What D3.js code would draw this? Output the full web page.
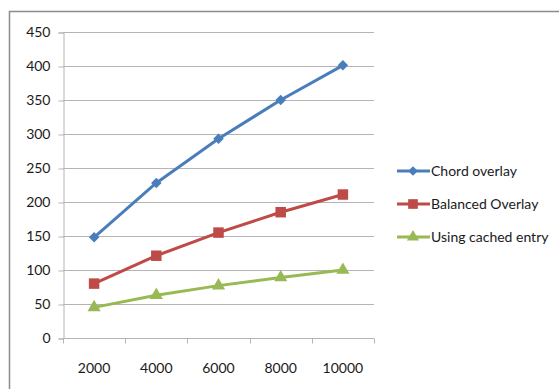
<!DOCTYPE html>
<html>
<head>
<meta charset="utf-8">
<script src="https://cdn.jsdelivr.net/npm/d3@7"></script>
<style>
  html, body { margin: 0; padding: 0; background: #fff; }
  svg { display: block; font-family: Lato, "Open Sans", sans-serif; }
</style>
</head>
<body>
<svg id="chart" width="559" height="389"></svg>
<script>
// Node counts on the x axis
const categories = ["2000", "4000", "6000", "8000", "10000"];
// Series values
const chordOverlay = [148, 228, 293, 350, 401];
const balancedOverlay = [80, 121, 155, 185, 211];
const cachedEntry = [45, 63, 77, 89, 100];
const seriesNames = ["Chord overlay", "Balanced Overlay", "Using cached entry"];
const yTicks = [0, 50, 100, 150, 200, 250, 300, 350, 400, 450];

// Square diamond marker (a square turned 45 degrees)
const squareDiamond = {
  draw(ctx, size) {
    const r = Math.sqrt(size / 2);
    ctx.moveTo(0, -r); ctx.lineTo(r, 0); ctx.lineTo(0, r); ctx.lineTo(-r, 0); ctx.closePath();
  }
};

const series = [
  { name: seriesNames[0], values: chordOverlay, color: "#4a7ebb", shape: squareDiamond, size: 55 },
  { name: seriesNames[1], values: balancedOverlay, color: "#be4b48", shape: d3.symbolSquare, size: 110 },
  { name: seriesNames[2], values: cachedEntry, color: "#98b954", shape: d3.symbolTriangle, size: 75 }
];

const svg = d3.select("#chart");

// Outer chart frame (continues past the right and bottom edges)
svg.append("rect")
  .attr("x", 9.5).attr("y", 11.5)
  .attr("width", 600).attr("height", 400)
  .attr("fill", "none").attr("stroke", "#8c8c8c").attr("stroke-width", 1.5);

const plot = { left: 63, right: 374, top: 32, bottom: 338 };

const x = d3.scaleBand().domain(categories).range([plot.left, plot.right]);
const y = d3.scaleLinear().domain([0, 450]).range([plot.bottom, plot.top]);

// Horizontal gridlines
svg.append("g").selectAll("line").data(yTicks.filter(t => t > 0)).join("line")
  .attr("x1", plot.left).attr("x2", plot.right)
  .attr("y1", d => Math.round(y(d)) + 0.5).attr("y2", d => Math.round(y(d)) + 0.5)
  .attr("stroke", "#b4b4b4").attr("stroke-width", 1);

// Y axis
const yAxis = svg.append("g")
  .attr("transform", `translate(${plot.left + 0.5},0.5)`)
  .call(d3.axisLeft(y).tickValues(yTicks).tickSize(5).tickPadding(8));
yAxis.select(".domain").attr("stroke", "#b4b4b4");
yAxis.selectAll(".tick line").attr("stroke", "#b4b4b4");
yAxis.selectAll(".tick text").attr("font-size", 14).attr("fill", "#1a1a1a")
  .attr("font-family", "Lato, sans-serif");

// X axis: ticks sit between categories
const xg = svg.append("g").attr("transform", `translate(0,${plot.bottom + 0.5})`);
xg.append("line").attr("x1", plot.left).attr("x2", plot.right)
  .attr("stroke", "#b4b4b4");
const bounds = categories.map(c => x(c)).concat([x(categories[categories.length - 1]) + x.bandwidth()]);
xg.selectAll("line.tk").data(bounds).join("line").attr("class", "tk")
  .attr("x1", d => Math.round(d) + 0.5).attr("x2", d => Math.round(d) + 0.5)
  .attr("y1", 0).attr("y2", 5).attr("stroke", "#b4b4b4");
xg.selectAll("text").data(categories).join("text")
  .attr("x", d => x(d) + x.bandwidth() / 2)
  .attr("y", 34)
  .attr("text-anchor", "middle")
  .attr("font-size", 14).attr("fill", "#1a1a1a")
  .text(d => d);

const cx = c => x(c) + x.bandwidth() / 2;
const line = d3.line().x((d, i) => cx(categories[i])).y(d => y(d));

series.forEach(s => {
  const g = svg.append("g");
  g.append("path").datum(s.values)
    .attr("d", line).attr("fill", "none")
    .attr("stroke", s.color).attr("stroke-width", 3)
    .attr("stroke-linejoin", "round");
  g.selectAll("path.m").data(s.values).join("path").attr("class", "m")
    .attr("transform", (d, i) => `translate(${cx(categories[i])},${y(d)})`)
    .attr("d", d3.symbol().type(s.shape).size(s.size))
    .attr("fill", s.color);
});

// Legend
const legend = svg.append("g");
series.forEach((s, i) => {
  const ly = 171 + i * 33;
  legend.append("line").attr("x1", 397).attr("x2", 430)
    .attr("y1", ly).attr("y2", ly)
    .attr("stroke", s.color).attr("stroke-width", 3);
  legend.append("path")
    .attr("transform", `translate(413,${ly})`)
    .attr("d", d3.symbol().type(s.shape).size(s.size * 0.85))
    .attr("fill", s.color);
  legend.append("text").attr("x", 431).attr("y", ly + 5)
    .attr("font-size", 14).attr("fill", "#1a1a1a")
    .text(s.name);
});
</script>
</body>
</html>
